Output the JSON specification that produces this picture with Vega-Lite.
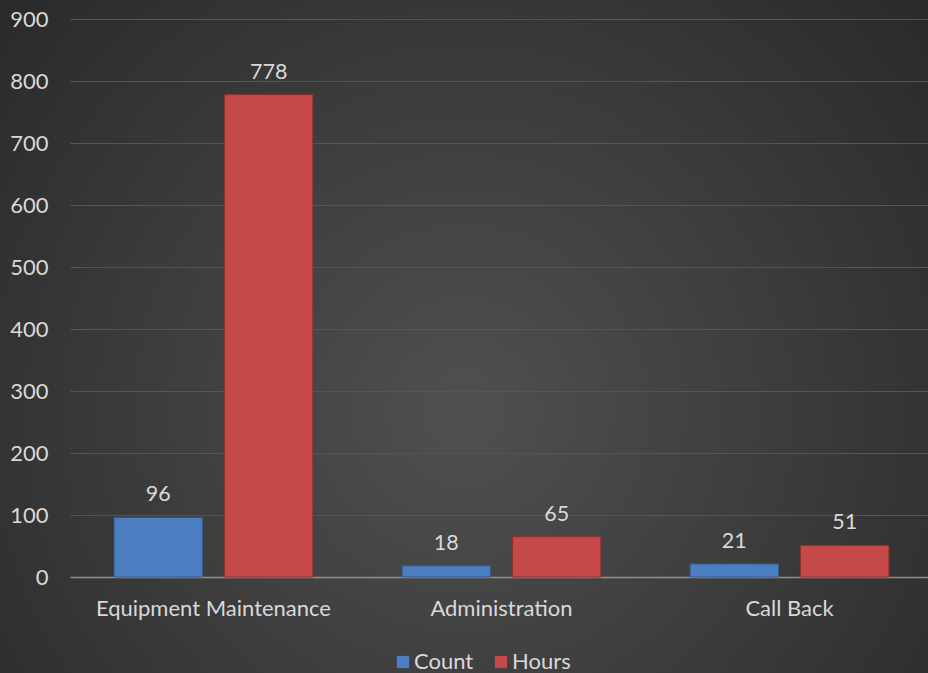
{
  "$schema": "https://vega.github.io/schema/vega-lite/v6.json",
  "width": 928,
  "height": 673,
  "autosize": {"type": "none"},
  "padding": 0,
  "background": "#303030",
  "config": {
    "font": "Lato",
    "view": {
      "stroke": null,
      "fill": {
        "gradient": "radial",
        "x1": 0.5, "y1": 0.58, "r1": 0,
        "x2": 0.5, "y2": 0.58, "r2": 0.78,
        "stops": [
          {"offset": 0, "color": "#505050"},
          {"offset": 1, "color": "#232323"}
        ]
      }
    }
  },
  "data": {
    "values": [
      {"category": "Equipment Maintenance", "series": "Count", "value": 96},
      {"category": "Equipment Maintenance", "series": "Hours", "value": 778},
      {"category": "Administration", "series": "Count", "value": 18},
      {"category": "Administration", "series": "Hours", "value": 65},
      {"category": "Call Back", "series": "Count", "value": 21},
      {"category": "Call Back", "series": "Hours", "value": 51}
    ]
  },
  "encoding": {
    "x": {
      "field": "category",
      "type": "nominal",
      "sort": ["Equipment Maintenance", "Administration", "Call Back"],
      "scale": {"range": [70, 933], "paddingInner": 0.31, "paddingOuter": 0.153},
      "axis": {
        "title": null,
        "orient": "bottom",
        "offset": -96,
        "labelAngle": 0,
        "labelFontSize": 22,
        "labelColor": "#d9d9d9",
        "labelPadding": 21,
        "labelLimit": 0,
        "ticks": false,
        "tickSize": 0,
        "domainColor": "#8f8f8f",
        "domainWidth": 1.5,
        "grid": false
      }
    },
    "xOffset": {
      "field": "series",
      "type": "nominal",
      "scale": {"paddingInner": 0.2, "paddingOuter": 0}
    },
    "y": {
      "field": "value",
      "type": "quantitative",
      "scale": {"domain": [0, 900], "range": [577, 19], "nice": false},
      "axis": {
        "title": null,
        "orient": "left",
        "offset": -70,
        "values": [0, 100, 200, 300, 400, 500, 600, 700, 800, 900],
        "labelFontSize": 22,
        "labelColor": "#d9d9d9",
        "labelPadding": 22,
        "ticks": false,
        "tickSize": 0,
        "domain": false,
        "grid": true,
        "gridColor": "#555555",
        "gridWidth": 1
      }
    }
  },
  "layer": [
    {
      "mark": {"type": "bar", "strokeWidth": 1},
      "encoding": {
        "color": {
          "field": "series",
          "type": "nominal",
          "scale": {"domain": ["Count", "Hours"], "range": ["#4b7fc1", "#c6494a"]},
          "legend": {
            "title": null,
            "orient": "none",
            "legendX": 392,
            "legendY": 651,
            "direction": "horizontal",
            "symbolType": "square",
            "symbolSize": 150,
            "symbolStrokeWidth": 0,
            "labelFontSize": 22,
            "labelColor": "#d9d9d9",
            "columnPadding": 16,
            "labelOffset": 0
          }
        },
        "stroke": {
          "field": "series",
          "type": "nominal",
          "scale": {"domain": ["Count", "Hours"], "range": ["#2f5b8f", "#8e2f2d"]},
          "legend": null
        }
      }
    },
    {
      "mark": {"type": "text", "baseline": "bottom", "dy": -11, "fontSize": 21.5, "color": "#d9d9d9"},
      "encoding": {
        "text": {"field": "value", "type": "quantitative"}
      }
    }
  ]
}
